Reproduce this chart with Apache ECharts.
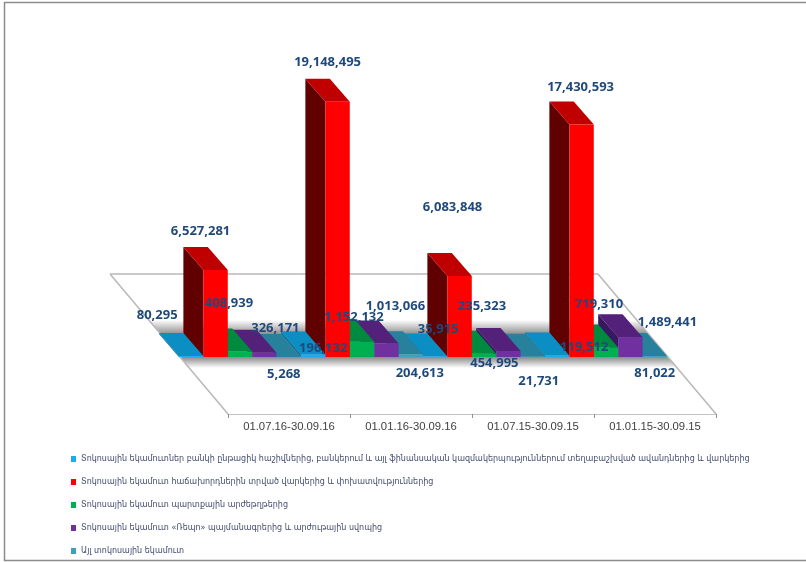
<!DOCTYPE html>
<html>
<head>
<meta charset="utf-8">
<style>
html, body { margin: 0; padding: 0; background: #fff; }
#chart { width: 806px; height: 562px; }
</style>
<script src="https://cdn.jsdelivr.net/npm/echarts@6/dist/echarts.min.js"></script>
</head>
<body>
<div id="chart"></div>
<script>
var categories = ['01.07.16-30.09.16', '01.01.16-30.09.16', '01.07.15-30.09.15', '01.01.15-30.09.15'];

var seriesNames = [
    'Տոկոսային եկամուտներ բանկի ընթացիկ հաշիվներից, բանկերում և այլ ֆինանսական կազմակերպություններում տեղաբաշխված ավանդներից և վարկերից',
    'Տոկոսային եկամուտ հաճախորդներին տրված վարկերից և փոխատվություններից',
    'Տոկոսային եկամուտ պարտքային արժեթղթերից',
    'Տոկոսային եկամուտ «Ռեպո» պայմանագրերից և արժութային սվոպից',
    'Այլ տոկոսային եկամուտ'
];

var depositValues = [80295, 196132, 35915, 119512];
var loanValues = [6527281, 19148495, 6083848, 17430593];
var bondValues = [408939, 1152132, 235323, 719310];
var repoValues = [326171, 1013066, 454995, 1489441];
var otherValues = [5268, 204613, 21731, 81022];

var allValues = [depositValues, loanValues, bondValues, repoValues, otherValues];

// цвета граней: перед, верх, бок
var faceColors = [
    ['#1eaaf0', '#0a8ec4', '#076f9a'],
    ['#ff0000', '#c00000', '#600000'],
    ['#00b050', '#008a40', '#00602c'],
    ['#7030a0', '#54217a', '#381860'],
    ['#3f9fbf', '#27809c', '#1c5a6e']
];

// сдвиг подписи от верха передней грани столбика
var labelShift = [
    [[-34, -41], [-15, -39], [-11, -48], [11, -24], [-5, 17]],
    [[10, -6], [-10, -39], [-8, -24], [9, -37], [9, 19]],
    [[3, -27], [-7, -69], [-2, -48], [-14, 12], [6, 25]],
    [[27, -8], [-1, -37], [-7, -43], [37, -15], [0, 17]]
];

var floorBack = 57;    // глубина пола до линии столбиков
var barDepthX = 20;
var barDepthY = 23;

function poly(points, fill, z2) {
    return { type: 'polygon', z2: z2, shape: { points: points }, style: { fill: fill } };
}

function makeBarRender(seriesIndex) {
    return function (params, api) {
        var cat = api.value(0);
        var val = api.value(1);
        var center = api.coord([cat, 0]);
        var slot = api.size([1, 0])[0];
        var w = slot / 5;
        var h = api.size([0, val])[1];
        // столбики стоят на полу, сдвинуты влево и вверх от оси
        var x0 = center[0] - slot / 2 - floorBack * 0.86 + seriesIndex * w;
        var x1 = x0 + w;
        var y0 = center[1] - floorBack;
        var y1 = y0 - h;
        // рисуем справа налево, левый столбик ближе к зрителю
        var order = 25 - (cat * 5 + seriesIndex);
        var c = faceColors[seriesIndex];
        var shift = labelShift[cat][seriesIndex];
        return {
            type: 'group',
            children: [
                poly([[x0, y0], [x0, y1], [x0 - barDepthX, y1 - barDepthY], [x0 - barDepthX, y0 - barDepthY]], c[2], order * 3 + 10),
                poly([[x0, y1], [x1, y1], [x1 - barDepthX, y1 - barDepthY], [x0 - barDepthX, y1 - barDepthY]], c[1], order * 3 + 11),
                poly([[x0, y0], [x1, y0], [x1, y1], [x0, y1]], c[0], order * 3 + 12),
                {
                    type: 'text',
                    z2: 500,
                    style: {
                        x: (x0 + x1) / 2 + shift[0],
                        y: y1 + shift[1],
                        text: val.toLocaleString('en-US'),
                        fill: '#1f497d',
                        font: 'bold 13px "Open Sans"',
                        align: 'center',
                        verticalAlign: 'middle'
                    }
                }
            ]
        };
    };
}

function renderFloor(params, api) {
    var slot = api.size([1, 0])[0];
    var base = api.coord([0, 0]);
    var leftX = base[0] - slot / 2;
    var rightX = leftX + slot * categories.length;
    var bottomY = base[1];
    var dx = 118 / 140;
    function at(x, y) { return [x - (bottomY - y) * dx, y]; }
    var topY = bottomY - 140;
    var backBandTop = bottomY - 94, backBandBottom = bottomY - 80;
    var frontBandTop = bottomY - 57, frontBandBottom = bottomY - 46;
    function band(y0, y1, c0, c1) {
        return poly([at(leftX, y0), at(rightX, y0), at(rightX, y1), at(leftX, y1)], {
            type: 'linear', x: 0, y: 0, x2: 0, y2: 1,
            colorStops: [{ offset: 0, color: c0 }, { offset: 1, color: c1 }]
        }, 2);
    }
    function edge(p, q) {
        return { type: 'line', z2: 3, shape: { x1: p[0], y1: p[1], x2: q[0], y2: q[1] }, style: { stroke: '#b8b8b8', lineWidth: 1.5 } };
    }
    return {
        type: 'group',
        children: [
            poly([at(leftX, topY), at(rightX, topY), at(rightX, bottomY), at(leftX, bottomY)], '#fff', 1),
            band(backBandTop, backBandBottom, '#ffffff', '#8f8f8f'),
            poly([at(leftX, backBandBottom), at(rightX, backBandBottom), at(rightX, frontBandTop), at(leftX, frontBandTop)], '#a8a8a8', 2),
            band(frontBandTop, frontBandBottom, '#8a8a8a', '#ffffff'),
            edge(at(leftX, topY), at(rightX, topY)),
            edge(at(leftX, topY), at(leftX, bottomY)),
            edge(at(rightX, topY), at(rightX, bottomY))
        ]
    };
}

var chart = echarts.init(document.getElementById('chart'));

var seriesList = [{
    name: 'floor',
    type: 'custom',
    z: 1,
    silent: true,
    renderItem: renderFloor,
    data: [0]
}];
seriesNames.forEach(function (name, i) {
    seriesList.push({
        name: name,
        type: 'custom',
        z: 2,
        renderItem: makeBarRender(i),
        encode: { x: 0, y: 1 },
        itemStyle: { color: faceColors[i][0] },
        data: allValues[i].map(function (v, c) { return [c, v]; })
    });
});

chart.setOption({
    animation: false,
    backgroundColor: '#fff',
    graphic: [{
        type: 'polyline',
        z: 0,
        shape: { points: [[806, 2.5], [4.5, 2.5], [4.5, 560.5], [806, 560.5]] },
        style: { stroke: '#8c8c8c', fill: null, lineWidth: 1.5 }
    }],
    grid: { left: 228, right: 90, top: 14, bottom: 148 },
    legend: {
        data: seriesNames,
        orient: 'vertical',
        left: 66,
        top: 450,
        itemWidth: 5,
        itemHeight: 6,
        itemGap: 15,
        icon: 'rect',
        selectedMode: false,
        textStyle: { fontFamily: 'DejaVu Sans', fontSize: 8, color: '#3f4a6b' }
    },
    xAxis: {
        type: 'category',
        data: categories,
        axisLine: { lineStyle: { color: '#b0b0b0', width: 1.5 } },
        axisTick: { show: true, length: 4, lineStyle: { color: '#909090' } },
        axisLabel: { color: '#404040', fontFamily: 'Liberation Sans', fontSize: 11.3, margin: 7, interval: 0 }
    },
    yAxis: { type: 'value', min: 0, max: 30000000, show: false, splitLine: { show: false } },
    series: seriesList
});

window.onresize = function () {
    chart.resize();
};
</script>
</body>
</html>
